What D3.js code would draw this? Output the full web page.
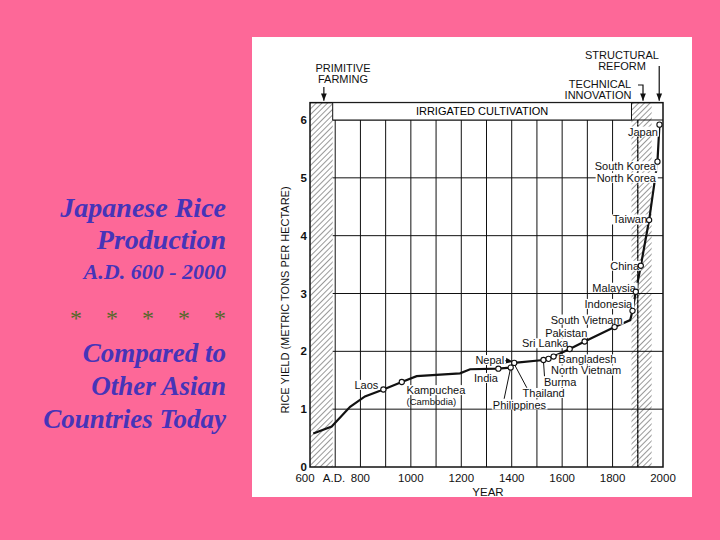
<!DOCTYPE html>
<html><head><meta charset="utf-8">
<script src="https://cdn.jsdelivr.net/npm/d3@7"></script>
<style>body{margin:0;background:#fd6898;}svg{display:block}</style>
</head><body>
<svg id="c" width="720" height="540"></svg>
<script>
const years=[613,686,759,818,891,964,1023,1195,1235,1347,1396,1410,1526,1546,1566,1630,1689,1808,1870,1879,1892,1912,1945,1978,1986];
const yields=[0.58,0.70,1.04,1.22,1.34,1.47,1.57,1.62,1.69,1.70,1.72,1.80,1.85,1.87,1.91,2.04,2.17,2.42,2.54,2.70,3.03,3.48,4.27,5.28,5.92];
const marked=[0,0,0,0,1,1,0,0,0,1,1,1,1,1,1,1,1,1,0,1,1,1,1,1,1];
const xTicks=[600,800,1000,1200,1400,1600,1800,2000];
const yTicks=[0,1,2,3,4,5,6];
const countries=[
 ["Japan",1980,5.8,"end"],["South Korea",1972,5.2,"end"],["North Korea",1972,5.0,"end"],
 ["Taiwan",1937,4.28,"end"],["China",1905,3.48,"end"],["Malaysia",1892,3.1,"end"],
 ["Indonesia",1878,2.82,"end"],["South Vietnam",1840,2.55,"end"],["Pakistan",1700,2.32,"end"],
 ["Sri Lanka",1625,2.14,"end"],["Nepal",1370,1.85,"end"],["India",1345,1.54,"end"],
 ["Laos",871,1.42,"end"],["Kampuchea",983,1.33,"start"],["Bangladesh",1585,1.86,"start"],
 ["North Vietnam",1556,1.67,"start"],["Burma",1528,1.47,"start"],["Thailand",1443,1.28,"start"],
 ["Philippines",1325,1.08,"start"]
];
const svg=d3.select("#c");
const x=d3.scaleLinear().domain([600,2000]).range([310,663]);
const y=d3.scaleLinear().domain([0,6]).range([467,120]);
const F="Liberation Sans, Arial, sans-serif";
const tt=svg.append("g").attr("font-family","Liberation Serif, Times New Roman, serif").attr("font-style","italic").attr("font-weight","bold").attr("fill","#4634b8").attr("text-anchor","end");
[["Japanese Rice",217,28],["Production",249,28],["A.D. 600 - 2000",279,22],["Compared to",362,27],["Other Asian",395,27],["Countries Today",428,27]].forEach(d=>tt.append("text").attr("x",226).attr("y",d[1]).attr("font-size",d[2]).text(d[0]));
svg.append("text").attr("x",226).attr("y",326).attr("text-anchor","end").attr("font-family","Liberation Serif, serif").attr("font-size",24).attr("fill","#55682a").attr("xml:space","preserve").text("*    *    *    *    *");
svg.append("rect").attr("x",252).attr("y",37).attr("width",440).attr("height",460).attr("fill","#fff");
const defs=svg.append("defs");
const p=defs.append("pattern").attr("id","h").attr("patternUnits","userSpaceOnUse").attr("width",4).attr("height",4).attr("patternTransform","rotate(45)");
p.append("rect").attr("width",4).attr("height",4).attr("fill","#fff");
p.append("line").attr("x1",0).attr("y1",0).attr("x2",0).attr("y2",4).attr("stroke","#333").attr("stroke-width",1);
const topY=y(6.3);
svg.append("rect").attr("x",x(600)).attr("y",topY).attr("width",x(690)-x(600)).attr("height",y(0)-topY).attr("fill","url(#h)");
svg.append("rect").attr("x",x(1875)).attr("y",topY).attr("width",x(1955)-x(1875)).attr("height",y(0)-topY).attr("fill","url(#h)");
const g=svg.append("g").attr("stroke","#111").attr("stroke-width",1);
d3.range(700,2000,100).forEach(v=>g.append("line").attr("x1",x(v)).attr("x2",x(v)).attr("y1",y(6)).attr("y2",y(0)));
yTicks.slice(1).forEach(v=>g.append("line").attr("x1",x(690)).attr("x2",x(2000)).attr("y1",y(v)).attr("y2",y(v)));
svg.append("line").attr("x1",x(1900)).attr("x2",x(1900)).attr("y1",y(6)).attr("y2",y(0)).attr("stroke","#111").attr("stroke-dasharray","3,2");
svg.append("rect").attr("x",x(600)).attr("y",topY).attr("width",x(2000)-x(600)).attr("height",y(0)-topY).attr("fill","none").attr("stroke","#111").attr("stroke-width",1.5);
svg.append("rect").attr("x",x(690)).attr("y",topY).attr("width",x(1875)-x(690)).attr("height",y(6)-topY).attr("fill","#fff").attr("stroke","#111");
svg.append("text").attr("x",(x(690)+x(1875))/2).attr("y",y(6.15)+4).attr("text-anchor","middle").attr("font-family",F).attr("font-size",11).text("IRRIGATED CULTIVATION");
const ax=svg.append("g").attr("font-family",F).attr("font-size",11.5).attr("fill","#111");
yTicks.forEach(v=>ax.append("text").attr("x",x(600)-3).attr("y",y(v)+4).attr("text-anchor","end").attr("font-weight","bold").text(v));
xTicks.forEach(v=>ax.append("text").attr("x",x(v)+(v==600?-5:0)).attr("y",482).attr("text-anchor","middle").text(v));
ax.append("text").attr("x",x(695)).attr("y",482).attr("text-anchor","middle").text("A.D.");
ax.append("text").attr("x",488).attr("y",496).attr("text-anchor","middle").text("YEAR");
ax.append("text").attr("transform","translate(289,300) rotate(-90)").attr("text-anchor","middle").attr("font-size",11).text("RICE YIELD  (METRIC TONS PER HECTARE)");
const an=svg.append("g").attr("font-family",F).attr("font-size",11).attr("fill","#111").attr("text-anchor","middle");
an.append("text").attr("x",343).attr("y",72).text("PRIMITIVE");
an.append("text").attr("x",343).attr("y",83).text("FARMING");
an.append("text").attr("x",622).attr("y",59).text("STRUCTURAL");
an.append("text").attr("x",622).attr("y",70).text("REFORM");
an.append("text").attr("x",600).attr("y",88).text("TECHNICAL");
an.append("text").attr("x",598).attr("y",99).text("INNOVATION");
defs.append("marker").attr("id","ar").attr("viewBox","0 0 10 10").attr("refX",10).attr("refY",5).attr("markerWidth",6).attr("markerHeight",6).attr("orient","auto").append("path").attr("d","M0,1L10,5L0,9z").attr("fill","#111");
const arr=(pts)=>svg.append("path").attr("d",d3.line()(pts)).attr("fill","none").attr("stroke","#111").attr("stroke-width",1.2).attr("marker-end","url(#ar)");
arr([[x(655),87],[x(655),topY-2]]);
arr([[x(1985),66],[x(1985),topY-2]]);
arr([[638,85],[643,85],[643,topY-2]]);
svg.append("path").datum(years.map((d,i)=>[d,yields[i]])).attr("d",d3.line().x(d=>x(d[0])).y(d=>y(d[1]))).attr("fill","none").attr("stroke","#111").attr("stroke-width",2.2);
const lb=svg.append("g").attr("font-family",F).attr("font-size",11).attr("fill","#111");
countries.forEach(c=>{
  const t=lb.append("text").attr("x",x(c[1])).attr("y",y(c[2])+4).attr("text-anchor",c[3]).text(c[0]);
  const b=t.node().getBBox();
  lb.insert("rect","text").attr("x",b.x-1).attr("y",b.y+1).attr("width",b.width+2).attr("height",b.height-2).attr("fill","#fff");
});
lb.append("text").attr("x",x(983)).attr("y",y(1.14)+4).attr("font-size",9.5).text("(Cambodia)");
const ld=svg.append("g").attr("stroke","#111").attr("fill","none");
[[[1396,1.72],[1370,1.18]],[[1410,1.78],[1460,1.37]],[[1526,1.83],[1530,1.57]]].forEach(s=>ld.append("line").attr("x1",x(s[0][0])).attr("y1",y(s[0][1])).attr("x2",x(s[1][0])).attr("y2",y(s[1][1])));
arr([[x(1375),y(1.84)],[x(1405),y(1.82)]]);
svg.append("g").selectAll("circle").data(years.map((d,i)=>[d,yields[i],marked[i]]).filter(d=>d[2])).join("circle")
 .attr("cx",d=>x(d[0])).attr("cy",d=>y(d[1])).attr("r",2.6).attr("fill","#fff").attr("stroke","#111").attr("stroke-width",1.1);
</script></body></html>
